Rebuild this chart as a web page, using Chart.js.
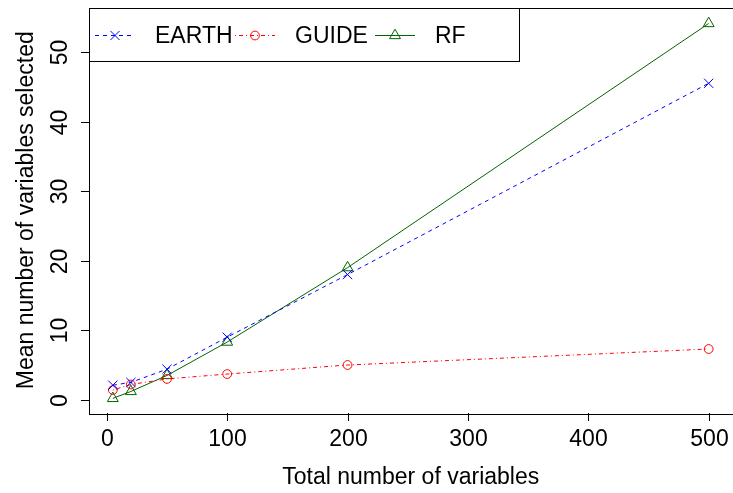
<!DOCTYPE html>
<html>
<head>
<meta charset="utf-8">
<script src="https://cdn.jsdelivr.net/npm/chart.js@4"></script>
<style>
html, body { margin: 0; padding: 0; background: #fff; overflow: hidden; }
#wrap { position: absolute; left: 0; top: 0; width: 740px; height: 493px; }
</style>
</head>
<body>
<div id="wrap"><canvas id="chart" width="740" height="493"></canvas></div>
<script>
// values
const nVars = [5, 20, 50, 100, 200, 500];
const earth = [2.1, 2.5, 4.4, 9.0, 18.0, 45.5];
const guide = [1.4, 2.2, 3.0, 3.7, 5.0, 7.3];
const rf = [0.2, 1.2, 3.5, 8.3, 19.0, 54.1];
const xTicks = [0, 100, 200, 300, 400, 500];
const yTicks = [0, 10, 20, 30, 40, 50];
const xTitle = 'Total number of variables';
const yTitle = 'Mean number of variables selected';

const FONT = '23px "Liberation Sans", Arial, sans-serif';

const series = [
    { label: 'EARTH', data: earth, color: '#0000ff', dash: [4, 4], style: 'crossRot', radius: 6.5 },
    { label: 'GUIDE', data: guide, color: '#ff0000', dash: [1, 3, 4, 3], style: 'circle', radius: 4.4 },
    { label: 'RF', data: rf, color: '#006400', dash: [], style: 'triangle', radius: 6.3 }
];

// R style frame: box, outward ticks, labels, titles and the legend
const rFrame = {
    id: 'rFrame',
    afterDraw(chart) {
        const ctx = chart.ctx;
        const area = chart.chartArea;
        const xs = chart.scales.x;
        const ys = chart.scales.y;
        ctx.save();
        ctx.strokeStyle = '#000';
        ctx.lineWidth = 1;
        ctx.setLineDash([]);
        ctx.strokeRect(Math.round(area.left) + 0.5, Math.round(area.top) + 0.5,
            Math.round(area.right - area.left), Math.round(area.bottom - area.top));

        ctx.fillStyle = '#000';
        ctx.font = FONT;

        // x axis
        ctx.textAlign = 'center';
        ctx.textBaseline = 'alphabetic';
        xTicks.forEach(v => {
            const px = Math.round(xs.getPixelForValue(v)) + 0.5;
            ctx.beginPath();
            ctx.moveTo(px, area.bottom);
            ctx.lineTo(px, area.bottom + 8);
            ctx.stroke();
            ctx.fillText(String(v), px, area.bottom + 33);
        });
        ctx.fillText(xTitle, (area.left + area.right) / 2, area.bottom + 71);

        // y axis
        yTicks.forEach(v => {
            const py = Math.round(ys.getPixelForValue(v)) + 0.5;
            ctx.beginPath();
            ctx.moveTo(area.left - 8, py);
            ctx.lineTo(area.left, py);
            ctx.stroke();
            ctx.save();
            ctx.translate(area.left - 22.5, py);
            ctx.rotate(-Math.PI / 2);
            ctx.fillText(String(v), 0, 0);
            ctx.restore();
        });
        ctx.save();
        ctx.translate(33, (area.top + area.bottom) / 2);
        ctx.rotate(-Math.PI / 2);
        ctx.fillText(yTitle, 0, 0);
        ctx.restore();

        // legend, top left
        const L = Math.round(area.left);
        const T = Math.round(area.top);
        ctx.strokeRect(L + 0.5, T + 0.5, 430, 53);
        series.forEach((s, i) => {
            const x0 = L + 6 + 140 * i;
            const ly = T + 27.5;
            ctx.strokeStyle = s.color;
            ctx.setLineDash(s.dash);
            ctx.beginPath();
            ctx.moveTo(x0, ly);
            ctx.lineTo(x0 + 40, ly);
            ctx.stroke();
            ctx.setLineDash([]);
            ctx.fillStyle = 'rgba(0,0,0,0)';
            Chart.helpers.drawPoint(ctx, { pointStyle: s.style, radius: s.radius, rotation: 0, borderWidth: 1 }, x0 + 20, ly);
            ctx.fillStyle = '#000';
            ctx.textAlign = 'left';
            ctx.fillText(s.label, x0 + 60, T + 35);
        });
        ctx.restore();
    }
};

new Chart(document.getElementById('chart'), {
    type: 'line',
    data: {
        datasets: series.map(s => ({
            label: s.label,
            data: nVars.map((x, i) => ({ x: x, y: s.data[i] })),
            borderColor: s.color,
            borderWidth: 1,
            borderDash: s.dash,
            tension: 0,
            fill: false,
            pointStyle: s.style,
            pointRadius: s.radius,
            pointHoverRadius: s.radius,
            pointBorderColor: s.color,
            pointBackgroundColor: 'rgba(0,0,0,0)',
            pointBorderWidth: 1
        }))
    },
    options: {
        responsive: false,
        animation: false,
        devicePixelRatio: 1,
        layout: {
            padding: { left: 89, top: 5, right: 5, bottom: 80 }
        },
        plugins: {
            legend: { display: false },
            tooltip: { enabled: false }
        },
        scales: {
            x: { type: 'linear', min: -14.8, max: 519.8, display: false },
            y: { type: 'linear', min: -1.9, max: 56.4, display: false }
        }
    },
    plugins: [rFrame]
});
</script>
</body>
</html>
